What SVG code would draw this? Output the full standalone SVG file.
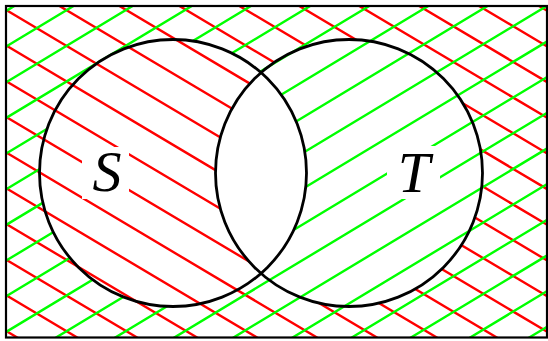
<svg xmlns="http://www.w3.org/2000/svg" width="548" height="341" viewBox="0 0 548 341">
  <style>
    .red { stroke: #ff0000; stroke-width: 2.4; fill: none; }
    .green { stroke: #00ff00; stroke-width: 2.4; fill: none; }
    .circle { stroke: #000000; stroke-width: 2.8; fill: none; }
    .frame { stroke: #000000; stroke-width: 2.2; fill: none; }
    .box { fill: #ffffff; stroke: none; }
    .label { font-family: "Liberation Serif", "DejaVu Serif", serif; font-style: italic; font-size: 58px; fill: #000000; text-anchor: middle; }
  </style>
  <defs>
    <clipPath id="notT">
      <path clip-rule="evenodd" d="M6,6H547V337.5H6Z M215.5,173a133.5,133.5 0 1,0 267,0a133.5,133.5 0 1,0 -267,0Z"/>
    </clipPath>
    <clipPath id="notS">
      <path clip-rule="evenodd" d="M6,6H547V337.5H6Z M39.5,173a133.5,133.5 0 1,0 267,0a133.5,133.5 0 1,0 -267,0Z"/>
    </clipPath>
  </defs>

  <rect x="0" y="0" width="548" height="341" fill="#ffffff"/>

  <g id="hatch-red" clip-path="url(#notT)">
    <path class="red" d="M0,-314.8L548,11.3 M0,-279.1L548,47 M0,-243.4L548,82.6 M0,-207.8L548,118.3 M0,-172.1L548,154 M0,-136.4L548,189.6 M0,-100.8L548,225.3 M0,-65.1L548,261 M0,-29.4L548,296.7 M0,6.3L548,332.3 M0,41.9L548,368 M0,77.6L548,403.7 M0,113.3L548,439.3 M0,148.9L548,475 M0,184.6L548,510.7 M0,220.3L548,546.3 M0,256L548,582 M0,291.6L548,617.7 M0,327.3L548,653.4"/>
  </g>

  <g id="hatch-green" clip-path="url(#notS)">
    <path class="green" d="M0,14.6L548,-315.8 M0,50.3L548,-280.2 M0,85.9L548,-244.5 M0,121.6L548,-208.8 M0,157.3L548,-173.2 M0,193L548,-137.5 M0,228.6L548,-101.8 M0,264.3L548,-66.2 M0,300L548,-30.5 M0,335.6L548,5.2 M0,371.3L548,40.9 M0,407L548,76.5 M0,442.6L548,112.2 M0,478.3L548,147.9 M0,514L548,183.5 M0,549.7L548,219.2 M0,585.3L548,254.9 M0,621L548,290.6 M0,656.7L548,326.2"/>
  </g>

  <g id="universe">
    <rect class="frame" x="6" y="6" width="541" height="331.5"/>
  </g>

  <g id="set-S">
    <circle class="circle" cx="173" cy="173" r="133.5"/>
    <rect class="box" x="82" y="147" width="47" height="52"/>
    <text class="label" x="107" y="191">S</text>
  </g>

  <g id="set-T">
    <circle class="circle" cx="349" cy="173" r="133.5"/>
    <rect class="box" x="387" y="146" width="53" height="53"/>
    <text class="label" x="414" y="191.5">T</text>
  </g>
</svg>
